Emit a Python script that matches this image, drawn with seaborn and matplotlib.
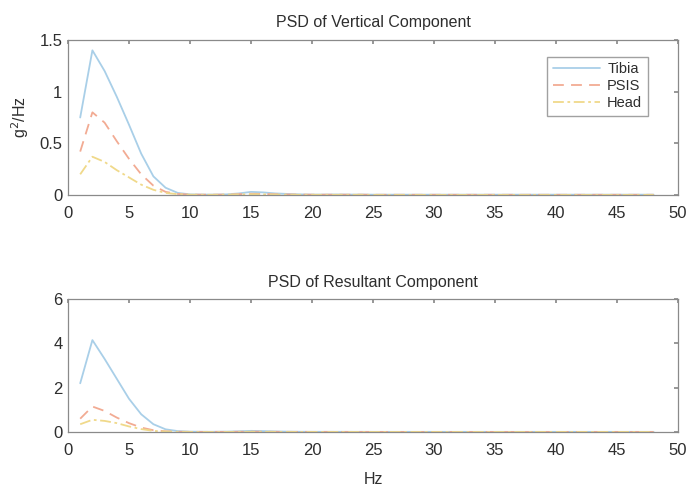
import numpy as np
import pandas as pd
import matplotlib
matplotlib.use("Agg")
import matplotlib.pyplot as plt
import seaborn as sns

freq = list(range(1, 49))

vert_tibia = [0.75, 1.40, 1.20, 0.95, 0.68, 0.40, 0.18, 0.07, 0.02, 0.006,
              0.004, 0.004, 0.006, 0.015, 0.030, 0.025, 0.015, 0.010, 0.006, 0.004,
              0.004, 0.005, 0.004, 0.004, 0.003, 0.003, 0.003, 0.003, 0.003, 0.003,
              0.003, 0.003, 0.003, 0.003, 0.003, 0.003, 0.003, 0.003, 0.003, 0.003,
              0.003, 0.003, 0.003, 0.003, 0.003, 0.003, 0.003, 0.003]
vert_psis = [0.42, 0.80, 0.70, 0.52, 0.35, 0.20, 0.09, 0.03, 0.01, 0.004,
             0.003, 0.003, 0.004, 0.008, 0.012, 0.010, 0.007, 0.005, 0.004, 0.003,
             0.003, 0.003, 0.003, 0.003, 0.002, 0.002, 0.002, 0.002, 0.002, 0.002,
             0.002, 0.002, 0.002, 0.002, 0.002, 0.002, 0.002, 0.002, 0.002, 0.002,
             0.002, 0.002, 0.002, 0.002, 0.002, 0.002, 0.002, 0.002]
vert_head = [0.20, 0.37, 0.32, 0.24, 0.17, 0.10, 0.05, 0.02, 0.008, 0.003,
             0.002, 0.002, 0.003, 0.005, 0.007, 0.006, 0.004, 0.003, 0.002, 0.002,
             0.002, 0.002, 0.002, 0.002, 0.001, 0.001, 0.001, 0.001, 0.001, 0.001,
             0.001, 0.001, 0.001, 0.001, 0.001, 0.001, 0.001, 0.001, 0.001, 0.001,
             0.001, 0.001, 0.001, 0.001, 0.001, 0.001, 0.001, 0.001]

res_tibia = [2.20, 4.15, 3.30, 2.40, 1.50, 0.80, 0.35, 0.12, 0.04, 0.015,
             0.010, 0.010, 0.015, 0.030, 0.050, 0.040, 0.025, 0.015, 0.010, 0.008,
             0.008, 0.008, 0.007, 0.007, 0.006, 0.006, 0.006, 0.006, 0.006, 0.006,
             0.006, 0.006, 0.006, 0.006, 0.006, 0.006, 0.006, 0.006, 0.006, 0.006,
             0.006, 0.006, 0.006, 0.006, 0.006, 0.006, 0.006, 0.006]
res_psis = [0.60, 1.15, 0.95, 0.65, 0.40, 0.20, 0.08, 0.03, 0.012, 0.006,
            0.005, 0.005, 0.006, 0.010, 0.015, 0.012, 0.008, 0.006, 0.005, 0.004,
            0.004, 0.004, 0.004, 0.004, 0.003, 0.003, 0.003, 0.003, 0.003, 0.003,
            0.003, 0.003, 0.003, 0.003, 0.003, 0.003, 0.003, 0.003, 0.003, 0.003,
            0.003, 0.003, 0.003, 0.003, 0.003, 0.003, 0.003, 0.003]
res_head = [0.35, 0.55, 0.50, 0.40, 0.25, 0.13, 0.05, 0.02, 0.008, 0.004,
            0.003, 0.003, 0.004, 0.006, 0.008, 0.007, 0.005, 0.004, 0.003, 0.003,
            0.003, 0.003, 0.003, 0.003, 0.002, 0.002, 0.002, 0.002, 0.002, 0.002,
            0.002, 0.002, 0.002, 0.002, 0.002, 0.002, 0.002, 0.002, 0.002, 0.002,
            0.002, 0.002, 0.002, 0.002, 0.002, 0.002, 0.002, 0.002]

series_names = ["Tibia", "PSIS", "Head"]
titles = ["PSD of Vertical Component", "PSD of Resultant Component"]
x_ticks = [0, 5, 10, 15, 20, 25, 30, 35, 40, 45, 50]
top_yticks = [0, 0.5, 1, 1.5]
top_yticklabels = ["0", "0.5", "1", "1.5"]
bot_yticks = [0, 2, 4, 6]

sns.set_theme(style="white")
plt.rcParams["font.family"] = ["Liberation Sans", "DejaVu Sans"]

colors = {"Tibia": "#a9cfe8", "PSIS": "#f2ab93", "Head": "#f0d98a"}
dashes = {"Tibia": "", "PSIS": (6, 4), "Head": (6, 2, 1.5, 2)}
text_color = "#2e2e2e"
spine_color = "#8a8a8a"

def make_df(vals):
    rows = []
    for name, v in zip(series_names, vals):
        for f, y in zip(freq, v):
            rows.append({"Hz": f, "val": y, "Sensor": name})
    return pd.DataFrame(rows)

fig = plt.figure(figsize=(6.89, 4.92), dpi=100)
ax1 = fig.add_axes([0.0987, 0.6037, 0.8853, 0.315])
ax2 = fig.add_axes([0.0987, 0.122, 0.8853, 0.270])

df1 = make_df([vert_tibia, vert_psis, vert_head])
df2 = make_df([res_tibia, res_psis, res_head])

for ax, df, title in [(ax1, df1, titles[0]), (ax2, df2, titles[1])]:
    sns.lineplot(data=df, x="Hz", y="val", hue="Sensor", style="Sensor",
                 palette=colors, dashes=dashes, linewidth=1.3, ax=ax,
                 legend=(ax is ax1))
    ax.set_xlim(0, 50)
    ax.set_xticks(x_ticks)
    ax.set_title(title, fontsize=11.5, color=text_color, pad=9)
    ax.tick_params(axis="both", which="both", direction="in", length=3,
                   color=spine_color, labelsize=12, labelcolor=text_color,
                   top=True, right=True)
    ax.tick_params(axis="x", pad=8)
    ax.tick_params(axis="y", pad=4)
    for s in ax.spines.values():
        s.set_color(spine_color)
        s.set_linewidth(0.9)
    ax.set_ylabel("")
    ax.set_xlabel("")

ax1.set_ylim(0, 1.5)
ax1.set_yticks(top_yticks)
ax1.set_yticklabels(top_yticklabels)
ax1.set_ylabel("g$^2$/Hz", fontsize=11.5, color=text_color, labelpad=6)
ax2.set_ylim(0, 6)
ax2.set_yticks(bot_yticks)
ax2.set_xlabel("Hz", fontsize=11.5, color=text_color, labelpad=10)

leg = ax1.legend(loc="upper right", bbox_to_anchor=(0.963, 0.94), fontsize=10.5,
                 frameon=True, fancybox=False, edgecolor=spine_color,
                 handlelength=3.2, labelspacing=0.2, borderpad=0.4,
                 handletextpad=0.5)
for t in leg.get_texts():
    t.set_color(text_color)

fig.savefig("out.png", dpi=100, facecolor="white")
